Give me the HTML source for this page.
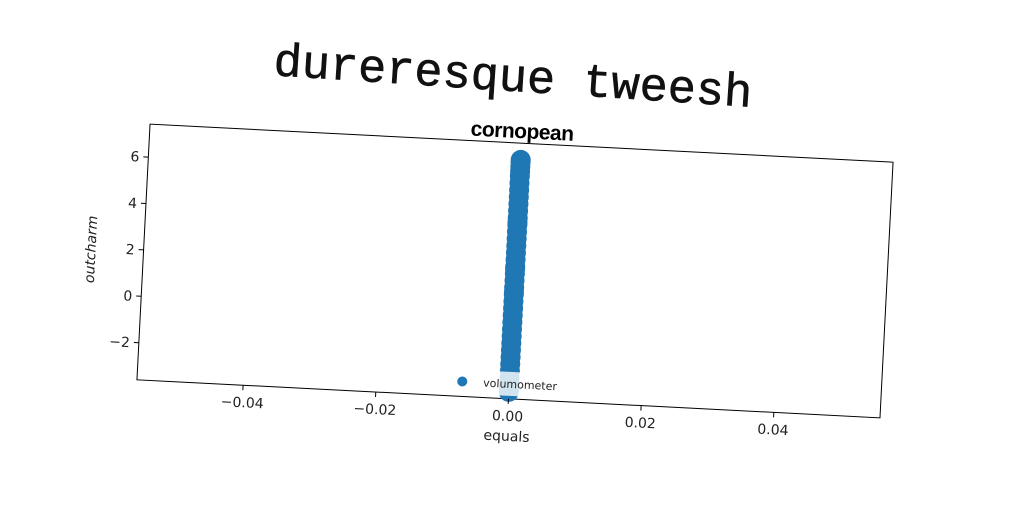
<!DOCTYPE html>
<html><head><meta charset="utf-8"><style>
html,body{margin:0;padding:0;background:#fff;}
svg{display:block;}
</style></head><body>
<svg id="chart" width="1024" height="512" viewBox="0 0 1024 512" style="font-family:'DejaVu Sans','Liberation Sans',sans-serif">
<text x="513" y="91" text-anchor="middle" style="font-family:'Liberation Mono','DejaVu Sans Mono',monospace;font-size:47px" fill="#111" stroke="#111" stroke-width="0.6" transform="rotate(3.8 513 77)">dureresque tweesh</text>
<g id="plot" transform="rotate(2.93 515 271)"></g>
</svg>
<script>
const xTicks=[-0.04,-0.02,0.00,0.02,0.04];
const xTickLabels=["\u22120.04","\u22120.02","0.00","0.02","0.04"];
const yTicks=[-2,0,2,4,6];
const yTickLabels=["\u22122","0","2","4","6"];
const seriesX=[0,0,0,0,0,0,0,0,0,0,0,0,0,0,0,0,0,0,0,0,0,0,0,0,0,0,0,0,0,0,0,0,0,0,0,0,0,0,0,0];
const seriesY=[-3.3,-3.0,-2.7,-2.4,-2.1,-1.8,-1.5,-1.2,-0.9,-0.6,-0.3,0.0,0.3,0.6,0.9,1.2,1.5,1.8,2.1,2.4,2.7,3.0,3.3,3.6,3.9,4.2,4.5,4.8,5.1,5.4,5.7,6.0,6.2,6.4,6.6,6.7,-3.2,1.0,2.0,4.0];
const xMin=-0.056,xMax=0.056,yMin=-3.6,yMax=7.42;
const L=143,R=887,T=143,B=399;
const sx=v=>L+(v-xMin)/(xMax-xMin)*(R-L);
const sy=v=>B-(v-yMin)/(yMax-yMin)*(B-T);
const NS="http://www.w3.org/2000/svg";
const g=document.getElementById('plot');
function mk(tag,attrs,parent){const e=document.createElementNS(NS,tag);for(const k in attrs)e.setAttribute(k,attrs[k]);(parent||g).appendChild(e);return e;}
const frame=mk('rect',{x:L,y:T,width:R-L,height:B-T,fill:'none',stroke:'#000','stroke-width':1});


const pts=mk('g',{});


seriesX.forEach((x,i)=>{
 const c=mk('circle',{cx:sx(x),cy:sy(seriesY[i]),r:10,fill:'#1f77b4'},pts);
 
 
});
xTicks.forEach((v,i)=>{
 const l=mk('line',{x1:sx(v),x2:sx(v),y1:B,y2:B+5,stroke:'#000'});
 
 
 const t=mk('text',{x:sx(v),y:B+22,'text-anchor':'middle','font-size':14,fill:'#222'});
 t.textContent=xTickLabels[i];
 
 
});
yTicks.forEach((v,i)=>{
 const l=mk('line',{x1:L-5,x2:L,y1:sy(v),y2:sy(v),stroke:'#000'});
 
 
 const t=mk('text',{x:L-9,y:sy(v)+5,'text-anchor':'end','font-size':14,fill:'#222'});
 t.textContent=yTickLabels[i];
 
 
});
const xl=mk('text',{x:(L+R)/2,y:B+42,'text-anchor':'middle','font-size':14,fill:'#222'});
xl.textContent='equals';


const yl=mk('text',{x:0,y:0,'text-anchor':'middle','font-size':14,'font-style':'italic',fill:'#222',transform:`translate(${L-48},${(T+B)/2}) rotate(-90)`});
yl.textContent='outcharm';


const st=mk('text',{x:(L+R)/2,y:T-5,'text-anchor':'middle',style:"font-family:'Liberation Sans Narrow','Liberation Sans',sans-serif;font-size:21px;font-weight:bold;letter-spacing:-0.5px",fill:'#000'});
st.textContent='cornopean';


const lg=mk('g',{});


mk('rect',{x:450,y:372,width:124,height:24,fill:'#fff','fill-opacity':0.8,rx:3},lg);
mk('circle',{cx:468,cy:384,r:5,fill:'#1f77b4'},lg);
const lt=mk('text',{x:489,y:388,'font-size':11,fill:'#222'},lg);
lt.textContent='volumometer';


</script>
</body></html>
